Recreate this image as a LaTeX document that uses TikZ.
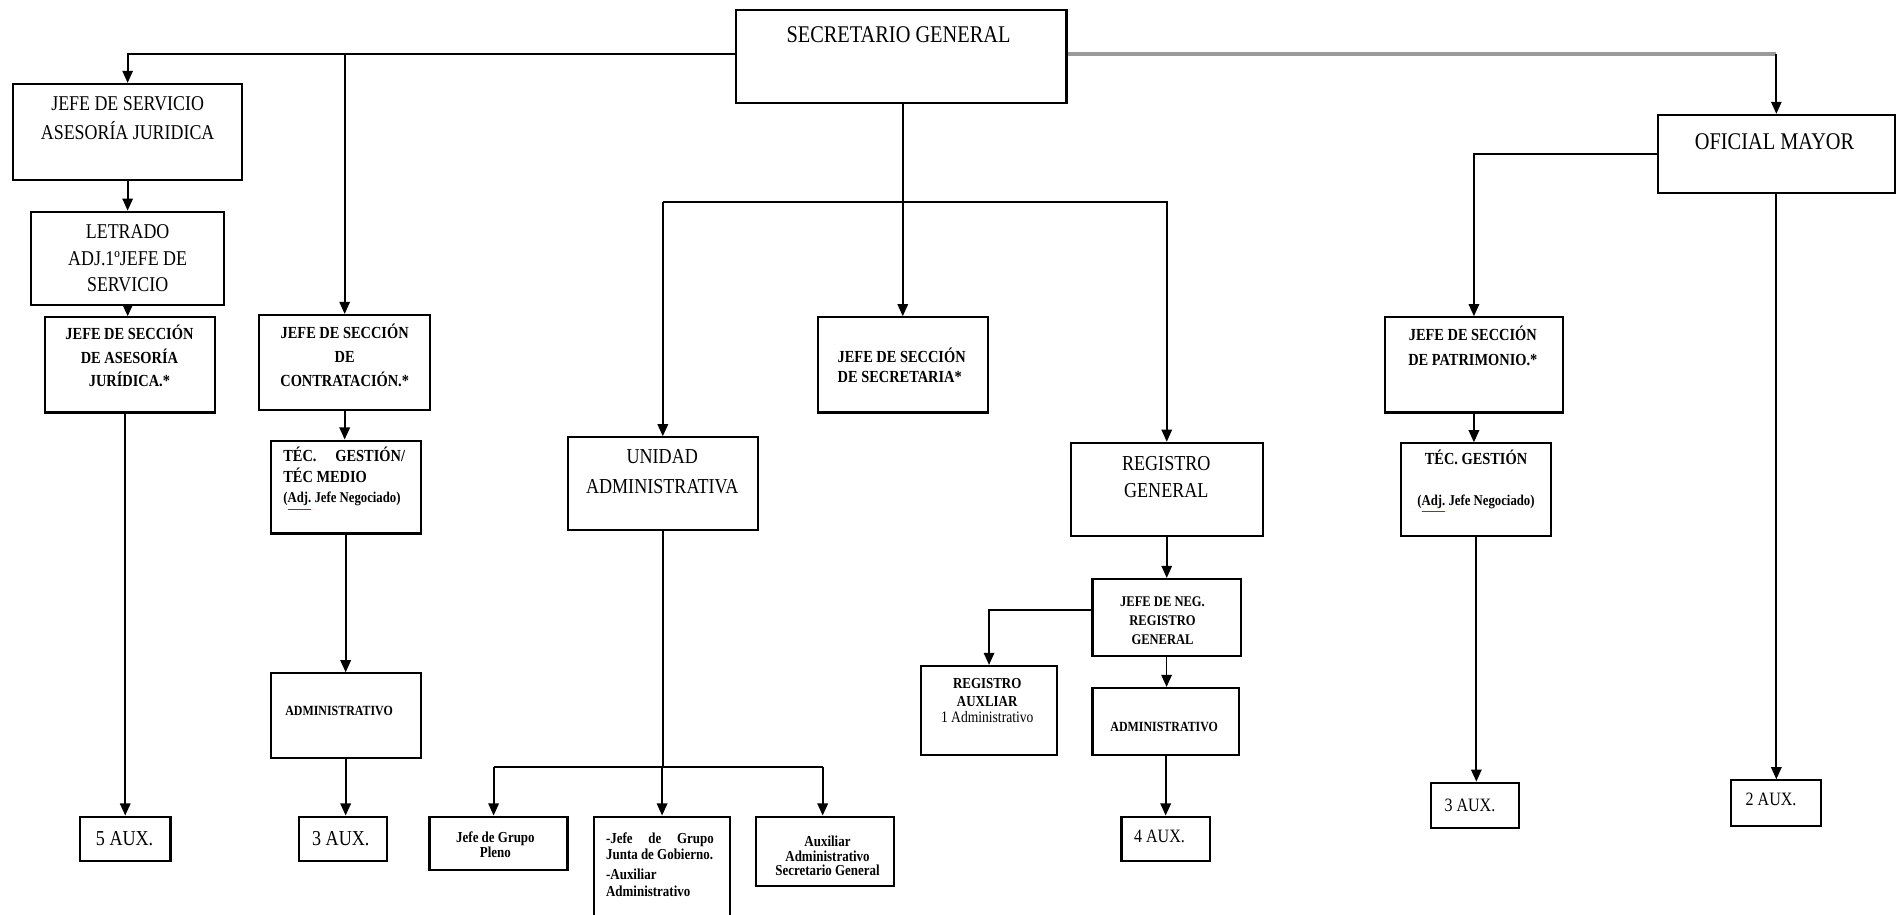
\documentclass[tikz,border=0pt]{standalone}
\usepackage{fontspec}
\setmainfont{Liberation Serif}[FakeStretch=0.85]
\usetikzlibrary{arrows.meta,fit}
\newcommand\fsz[2]{\fontsize{#1}{#2}\selectfont}
\newcommand\adj{{\color{red}\underline{\textcolor{black}{Adj.}}}}
\begin{document}
\begin{tikzpicture}[x=0.5pt,y=-0.5pt,
  box/.style={draw, line width=0.9pt, inner sep=0pt, fit={#1}},
  ln/.style={line width=0.75pt},
  arr/.style={ln, -{Triangle[length=5pt,width=4.3pt]}},
  gl/.style={draw=gray!80, line width=1.4pt},
  tx/.style={inner sep=0pt, align=center, text=black}]
\useasboundingbox (0,0) rectangle (1568,756);

% ---------- boxes ----------
\node[box={(608.3,8.3) (881.5,84.9)}] (sg) {};
\node[box={(11,69.4) (200,148.8)}] (js) {};
\node[box={(25.8,175) (185.3,252)}] (let) {};
\node[box={(37.2,262.3) (177.7,341)}] (jsaj) {};
\node[box={(66,675) (141,711.7)}] (aux5) {};
\node[box={(214.4,260.4) (355.4,338.9)}] (jsc) {};
\node[box={(223.7,364.2) (347.7,440.9)}] (tec) {};
\node[box={(223.7,556.6) (347.7,626.8)}] (adm1) {};
\node[box={(247.4,675) (320.2,711.7)}] (aux3a) {};
\node[box={(676,262.3) (816.4,341)}] (jss) {};
\node[box={(469.5,361.5) (626.2,438)}] (ua) {};
\node[box={(355,675) (469,719)}] (g1) {};
\node[box={(491,675) (603.5,770)}] (g2) {};
\node[box={(625,675) (739,732.6)}] (g3) {};
\node[box={(885,366) (1043.8,442.8)}] (rg) {};
\node[box={(903,478.6) (1025.5,542.3)}] (jnrg) {};
\node[box={(761,550.5) (874,624)}] (ra) {};
\node[box={(903,568.7) (1024,624)}] (adm2) {};
\node[box={(927,675) (1000,711.7)}] (aux4) {};
\node[box={(1370.5,95) (1566,159.3)}] (om) {};
\node[box={(1144.8,262.3) (1291.8,341)}] (jsp) {};
\node[box={(1158.3,366.5) (1282.3,442.8)}] (tg) {};
\node[box={(1182.6,647) (1255.3,684.7)}] (aux3b) {};
\node[box={(1431,645) (1505,682.5)}] (aux2) {};

% ---------- texts ----------
\node[tx, font=\fsz{9.9}{12}] (sgt) at (742.7,28.4) {SECRETARIO GENERAL};
\node[tx, font=\fsz{9.9}{12}] (omt) at (1466.8,117) {OFICIAL MAYOR};
\node[tx, font=\fsz{8.7}{11.85}] (jst) at (105.5,97.85) {JEFE DE SERVICIO\\ASESORÍA JURIDICA};
\node[tx, font=\fsz{8.7}{11.03}] (lett) at (105.5,213.55) {LETRADO\\ADJ.1ºJEFE DE\\SERVICIO};
\node[tx, font=\bfseries\fsz{7}{9.65}] (jsajt) at (107,294.4) {JEFE DE SECCIÓN\\DE ASESORÍA\\JURÍDICA.*};
\node[tx, font=\fsz{8.8}{10}] (aux5t) at (103,693) {5 AUX.};
\node[tx, font=\bfseries\fsz{7}{10}] (jsct) at (284.9,293.7) {JEFE DE SECCIÓN\\DE\\CONTRATACIÓN.*};
\node[tx, font=\bfseries\fsz{7}{8.5}] (tect) at (284.5,396) {\parbox{50.3pt}{TÉC.\hfill GESTIÓN/\\TÉC MEDIO\\{\fsz{6.2}{8.5}(\adj\ Jefe Negociado)}}};
\node[tx, font=\bfseries\fsz{5.8}{7}] (adm1t) at (280.3,587.7) {ADMINISTRATIVO};
\node[tx, font=\fsz{8.8}{10}] (aux3at) at (281.7,693) {3 AUX.};
\node[tx, align=left, font=\bfseries\fsz{7}{8.25}] (jsst) at (745.3,301.8) {JEFE DE SECCIÓN\\DE SECRETARIA*};
\node[tx, font=\fsz{8.8}{12.4}] (uat) at (547.4,389.9) {UNIDAD\\ADMINISTRATIVA};
\node[tx, font=\fsz{8.8}{11.3}] (rgt) at (964,394.3) {REGISTRO\\GENERAL};
\node[tx, font=\bfseries\fsz{6.1}{7.8}] (jnrgt) at (960.9,512.9) {JEFE DE NEG.\\REGISTRO\\GENERAL};
\node[tx, font=\bfseries\fsz{6.3}{7.6}] (rat) at (816,578.9) {REGISTRO\\AUXLIAR\\[-1.2pt]{\mdseries\fsz{6.6}{7.6}1 Administrativo}};
\node[tx, font=\bfseries\fsz{5.8}{7}] (adm2t) at (962.3,600.7) {ADMINISTRATIVO};
\node[tx, font=\fsz{7.8}{9}, anchor=west] (aux4t) at (937,691) {4 AUX.};
\node[tx, font=\bfseries\fsz{7}{10}] (jspt) at (1217.4,285.85) {JEFE DE SECCIÓN\\DE PATRIMONIO.*};
\node[tx, font=\bfseries\fsz{7}{8.5}] (tgt) at (1220,397.9) {TÉC. GESTIÓN\\[8.5pt]{\fsz{6.2}{8.5}(\adj\ Jefe Negociado)}};
\node[tx, font=\fsz{7.8}{9}, anchor=west] (aux3bt) at (1193.6,665.4) {3 AUX.};
\node[tx, font=\fsz{7.8}{9}, anchor=west] (aux2t) at (1442.5,661) {2 AUX.};
\node[tx, font=\bfseries\fsz{6.3}{6}] (g1t) at (409.5,698) {Jefe de Grupo\\Pleno};
\node[tx, font=\bfseries\fsz{6.3}{6.9}] (g2t) at (545.5,714.6) {\parbox{44.5pt}{-Jefe\hfill de\hfill Grupo\\Junta de Gobierno.\\[1.35pt]-Auxiliar\\Administrativo}};
\node[tx, font=\bfseries\fsz{6.3}{5.9}] (g3t) at (684,707.5) {Auxiliar\\Administrativo\\Secretario General};

% ---------- connectors ----------
\coordinate (sgL) at ([yshift=1pt]sg.west);
\coordinate (sgR) at ([yshift=1pt]sg.east);
\draw[arr] (sgL) -| (js.north);
\draw[arr] (sgL -| jsc.north) -- (jsc.north);
\draw[gl] (sgR) -- (sgR -| om.north);
\draw[arr] (sgR -| om.north) -- (om.north);

\draw[arr] (js.south) -- (js.south |- let.north);
\draw[arr] (let.south) -- (let.south |- jsaj.north);
\draw[arr] (aux5.north |- jsaj.south) -- (aux5.north);

\draw[arr] (jsc.south) -- (jsc.south |- tec.north);
\draw[arr] (tec.south) -- (tec.south |- adm1.north);
\draw[arr] (adm1.south) -- (adm1.south |- aux3a.north);

\draw[arr] (sg.south -| jss.north) -- (jss.north);

\coordinate (brU) at (548.4,167.2);
\draw[arr] (ua.north |- brU) -- (ua.north);
\draw[arr] (ua.north |- brU) -| (rg.north);

\coordinate (brG) at (548,634);
\draw[ln] (ua.south) -- (ua.south |- brG);
\draw[ln] ([xshift=-2pt]g1.north |- brG) -- ([xshift=-1pt]g3.north |- brG);
\draw[arr] ([xshift=-2pt]g1.north |- brG) -- ([xshift=-2pt]g1.north);
\draw[arr] (g2.north |- brG) -- (g2.north);
\draw[arr] ([xshift=-1pt]g3.north |- brG) -- ([xshift=-1pt]g3.north);

\draw[arr] (rg.south) -- (rg.south |- jnrg.north);
\draw[arr] (jnrg.south) -- (jnrg.south |- adm2.north);
\draw[arr] (adm2.south) -- (adm2.south |- aux4.north);
\draw[arr] ([yshift=3.25pt]jnrg.west) -| (ra.north);

\draw[arr] (om.west) -| (jsp.north);
\draw[arr] (jsp.south) -- (jsp.south |- tg.north);
\draw[arr] (tg.south) -- (tg.south |- aux3b.north);
\draw[arr] (om.south) -- (om.south |- aux2.north);
\end{tikzpicture}
\end{document}
